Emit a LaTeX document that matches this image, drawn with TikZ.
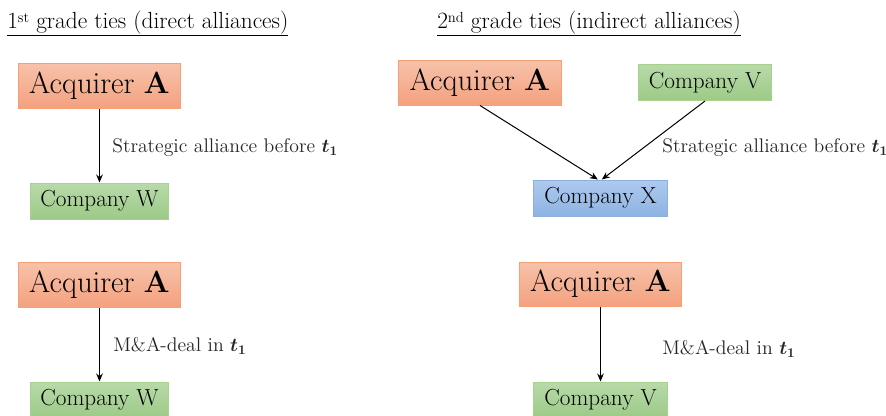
\documentclass[tikz,border=0pt]{standalone}
\usetikzlibrary{arrows.meta}
\definecolor{orTop}{HTML}{F7C2AA}
\definecolor{orBot}{HTML}{F4A17F}
\definecolor{orLine}{HTML}{F4A074}
\definecolor{grTop}{HTML}{B8DAA9}
\definecolor{grBot}{HTML}{9CCA87}
\definecolor{grLine}{HTML}{A9D18E}
\definecolor{blTop}{HTML}{AECAEE}
\definecolor{blBot}{HTML}{8DB3E3}
\definecolor{blLine}{HTML}{8FAFDD}
\newcommand{\mysup}[1]{\raisebox{0.55ex}{\fontsize{11}{13}\selectfont #1}}
\begin{document}
\begin{tikzpicture}[x=0.75pt,y=-0.75pt,
  box/.style={rectangle,inner sep=0pt,anchor=center,line width=0.75pt},
  acq/.style={box,draw=orLine,top color=orTop,bottom color=orBot,
    minimum width=121pt,minimum height=33.75pt,font=\fontsize{23}{27}\selectfont},
  compg/.style={box,draw=grLine,top color=grTop,bottom color=grBot,
    minimum width=104pt,minimum height=27pt,font=\fontsize{17.4}{21}\selectfont},
  compb/.style={box,draw=blLine,top color=blTop,bottom color=blBot,
    minimum width=100pt,minimum height=27pt,font=\fontsize{17.4}{21}\selectfont},
  lbl/.style={anchor=west,inner sep=0pt,text=black!85,font=\fontsize{14.8}{17}\selectfont},
  hdr/.style={anchor=base west,inner sep=0pt,font=\fontsize{17.5}{21}\selectfont},
  arr/.style={-{Stealth[length=6pt,width=5pt]},line width=0.75pt,black}]
\useasboundingbox (0,0) rectangle (886,415);
\begin{scope}
\clip (0,0) rectangle (886,415);
% headers
\node[hdr] (h1) at (7,28) {\underline{1\mysup{st} grade ties (direct alliances)}};
\node[hdr] (h2) at (437,28) {\underline{2\mysup{nd} grade ties (indirect alliances)}};
% left column
\node[acq] (a1) at (99.5,85.5) {Acquirer \textbf{A}};
\node[compg] (w1) at (99.5,201) {Company W};
\node[acq] (a2) at (99.5,284.5) {Acquirer \textbf{A}};
\node[compg] (w2) at (99.5,400) {Company W};
\draw[arr] (a1) -- (w1);
\draw[arr] (a2) -- (w2);
\node[lbl] (l1) at (112,148) {Strategic alliance before {\boldmath$t_1$}};
\node[lbl] (l2) at (113,346) {M\&A-deal in {\boldmath$t_1$}};
% right column
\node[acq,minimum width=122pt] (a3) at (480,82.5) {Acquirer \textbf{A}};
\node[compg,minimum width=100pt] (v1) at (705,82.5) {Company V};
\node[compb] (x1) at (600.5,198) {Company X};
\node[acq,minimum width=122pt,minimum height=33pt] (a4) at (600.5,284) {Acquirer \textbf{A}};
\node[compg,minimum width=100pt] (v2) at (600.5,400) {Company V};
\draw[arr] (a3.south) -- ([xshift=-2pt]x1.north);
\draw[arr] (v1.south) -- ([xshift=1pt]x1.north);
\draw[arr] (a4) -- (v2);
\node[lbl] (l3) at (662,148) {Strategic alliance before {\boldmath$t_1$}};
\node[lbl] (l4) at (662,349) {M\&A-deal in {\boldmath$t_1$}};
\end{scope}
\end{tikzpicture}
\end{document}
